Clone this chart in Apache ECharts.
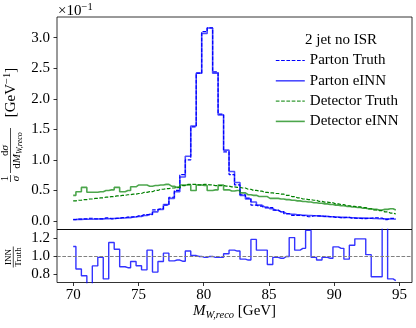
<!DOCTYPE html>
<html>
<head>
<meta charset="utf-8">
<script src="https://cdn.jsdelivr.net/npm/echarts@6/dist/echarts.min.js"></script>
<style>
  html, body { margin: 0; padding: 0; background: #fff; }
  #chart { width: 416px; height: 328px; }
</style>
</head>
<body>
<div id="chart"></div>
<script>
// histogram bins (centres), M_W,reco in GeV
const binStart = 70;
const binWidth = 0.419;
const xTicks = [70, 75, 80, 85, 90, 95];
const yTicksTop = [0, 0.5, 1.0, 1.5, 2.0, 2.5, 3.0];
const yTicksRatio = [0.8, 1.0, 1.2];

// values in units of 1e-1 GeV^-1
const partonTruth = [
  0.0225, 0.031, 0.036, 0.045, 0.036, 0.035, 0.051, 0.036, 0.043, 0.056,
  0.063, 0.069, 0.084, 0.106, 0.103, 0.182, 0.201, 0.260, 0.389, 0.500,
  0.760, 1.000, 1.540, 2.420, 3.100, 3.160, 2.440, 1.750, 1.130, 0.760,
  0.590, 0.430, 0.375, 0.260, 0.243, 0.215, 0.220, 0.177, 0.153, 0.120,
  0.091, 0.093, 0.087, 0.070, 0.086, 0.083, 0.076, 0.071, 0.059, 0.055,
  0.059, 0.048, 0.042, 0.039, 0.043, 0.053, 0.049, 0.024, 0.043, 0.041
];
const partonINN = [
  0.025, 0.027, 0.028, 0.030, 0.032, 0.035, 0.038, 0.042, 0.046, 0.050,
  0.055, 0.065, 0.075, 0.090, 0.110, 0.150, 0.190, 0.270, 0.370, 0.480,
  0.720, 1.060, 1.555, 2.420, 3.070, 3.160, 2.420, 1.735, 1.160, 0.810,
  0.630, 0.420, 0.360, 0.310, 0.260, 0.230, 0.200, 0.175, 0.150, 0.120,
  0.110, 0.100, 0.095, 0.090, 0.085, 0.080, 0.075, 0.070, 0.065, 0.060,
  0.057, 0.054, 0.050, 0.047, 0.044, 0.041, 0.038, 0.035, 0.032, 0.030
];
const detectorTruth = [
  0.33, 0.34, 0.35, 0.36, 0.37, 0.38, 0.39, 0.40, 0.41, 0.42,
  0.43, 0.44, 0.45, 0.47, 0.48, 0.50, 0.52, 0.53, 0.54, 0.55,
  0.58, 0.60, 0.60, 0.59, 0.60, 0.59, 0.58, 0.58, 0.57, 0.56,
  0.55, 0.54, 0.52, 0.50, 0.49, 0.47, 0.46, 0.45, 0.44, 0.42,
  0.40, 0.38, 0.36, 0.35, 0.34, 0.32, 0.31, 0.30, 0.28, 0.27,
  0.25, 0.24, 0.23, 0.22, 0.20, 0.18, 0.17, 0.15, 0.13, 0.115
];
const detectorINN = [
  0.42, 0.48, 0.55, 0.47, 0.47, 0.48, 0.50, 0.51, 0.55, 0.48,
  0.50, 0.56, 0.59, 0.59, 0.57, 0.58, 0.59, 0.60, 0.57, 0.55,
  0.59, 0.59, 0.50, 0.59, 0.58, 0.50, 0.51, 0.59, 0.51, 0.49,
  0.50, 0.46, 0.43, 0.42, 0.40, 0.40, 0.37, 0.37, 0.36, 0.35,
  0.34, 0.33, 0.32, 0.31, 0.30, 0.29, 0.28, 0.27, 0.26, 0.25,
  0.24, 0.23, 0.22, 0.21, 0.20, 0.19, 0.18, 0.19, 0.20, 0.18
];
// INN / Truth (parton level)
const ratio = [
  1.11, 0.86, 0.785, 0.62, 0.895, 0.99, 0.75, 1.155, 1.08, 0.885,
  0.875, 0.944, 0.896, 0.851, 1.07, 0.826, 0.944, 1.037, 0.951, 0.96,
  0.947, 1.06, 1.01, 1.0, 0.99, 1.0, 0.99, 0.99, 1.03, 1.07,
  1.06, 0.97, 0.96, 1.19, 1.07, 1.07, 0.91, 0.99, 0.98, 1.0,
  1.21, 1.07, 1.09, 1.29, 0.99, 0.96, 0.99, 0.98, 1.107, 1.09,
  0.97, 1.125, 1.196, 1.196, 1.02, 0.774, 0.774, 1.45, 0.75, 0.73
];

const FONT = 'Liberation Serif';
const xCentres = partonINN.map((_, i) => +(binStart + i * binWidth).toFixed(3));
const pairs = arr => arr.map((v, i) => [xCentres[i], v]);
const dash = [3.7, 1.6];

let chart = echarts.init(document.getElementById('chart'));

let lineStyleFor = function (color, dashed) {
  return dashed
    ? { color: color, width: 1.2, type: dash }
    : { color: color, width: 1.6, opacity: 0.7 };
};

let stepLine = function (name, data, color, dashed, grid) {
  return {
    name: name,
    type: 'line',
    step: 'middle',
    xAxisIndex: grid,
    yAxisIndex: grid,
    symbol: 'none',
    data: pairs(data),
    itemStyle: { color: color },
    lineStyle: lineStyleFor(color, dashed)
  };
};

let ratioSeries = stepLine('ratio', ratio, '#0000ff', false, 1);
ratioSeries.lineStyle.width = 1.4;
ratioSeries.lineStyle.opacity = 0.8;
ratioSeries.markLine = {
  silent: true,
  symbol: 'none',
  label: { show: false },
  lineStyle: { color: '#808080', width: 1, type: dash },
  data: [{ yAxis: 1 }]
};

let legendItem = function (name, color, dashed) {
  let ls = lineStyleFor(color, dashed);
  ls.width = dashed ? 1 : 1.6;
  return { name: name, itemStyle: { opacity: 0 }, lineStyle: ls };
};

let option = {
  animation: false,
  backgroundColor: '#fff',
  textStyle: { fontFamily: FONT },
  title: {
    text: '2 jet no ISR',
    left: 300,
    top: 28,
    textStyle: { fontFamily: FONT, fontSize: 15, fontWeight: 'normal', color: '#000' }
  },
  legend: {
    data: [
      legendItem('Parton Truth', '#0000ff', true),
      legendItem('Parton eINN', '#0000ff', false),
      legendItem('Detector Truth', '#008000', true),
      legendItem('Detector eINN', '#008000', false)
    ],
    orient: 'vertical',
    left: 270,
    top: 48,
    itemWidth: 29,
    itemHeight: 14,
    itemGap: 5.3,
    itemStyle: { opacity: 0 },
    textStyle: { fontFamily: FONT, fontSize: 15, color: '#000', lineHeight: 14 }
  },
  grid: [
    { left: 57, top: 17, width: 355, height: 212.5, show: true, borderColor: '#000', borderWidth: 0.8 },
    { left: 57, top: 229.5, width: 355, height: 53, show: true, borderColor: '#000', borderWidth: 0.8 }
  ],
  xAxis: [
    {
      type: 'value', gridIndex: 0, min: 68.76, max: 95.96,
      axisLine: { show: false }, axisTick: { show: false },
      axisLabel: { show: false }, splitLine: { show: false }
    },
    {
      type: 'value', gridIndex: 1, min: 68.76, max: 95.96,
      axisLine: { show: false },
      axisTick: { show: true, customValues: xTicks, length: 3.5, lineStyle: { color: '#000', width: 0.8 } },
      axisLabel: { customValues: xTicks, fontFamily: FONT, fontSize: 15, color: '#000', margin: 5 },
      splitLine: { show: false },
      name: '{i|M}{s|W,reco}{n| [GeV]}',
      nameLocation: 'middle',
      nameGap: 20,
      nameTextStyle: {
        rich: {
          i: { fontFamily: FONT, fontSize: 15, fontStyle: 'italic', color: '#000' },
          s: { fontFamily: FONT, fontSize: 10.5, fontStyle: 'italic', color: '#000', padding: [7, 0, 0, 0] },
          n: { fontFamily: FONT, fontSize: 15, color: '#000' }
        }
      }
    }
  ],
  yAxis: [
    {
      type: 'value', gridIndex: 0, min: -0.139, max: 3.339,
      axisLine: { show: false },
      axisTick: { show: true, customValues: yTicksTop, length: 3.5, lineStyle: { color: '#000', width: 0.8 } },
      axisLabel: {
        customValues: yTicksTop, fontFamily: FONT, fontSize: 15, color: '#000', margin: 7,
        formatter: v => v.toFixed(1)
      },
      splitLine: { show: false }
    },
    {
      type: 'value', gridIndex: 1, min: 0.71, max: 1.30,
      axisLine: { show: false },
      axisTick: { show: true, customValues: yTicksRatio, length: 3.5, lineStyle: { color: '#000', width: 0.8 } },
      axisLabel: {
        customValues: yTicksRatio, fontFamily: FONT, fontSize: 15, color: '#000', margin: 7,
        formatter: v => v.toFixed(1)
      },
      splitLine: { show: false }
    }
  ],
  graphic: [
    {
      type: 'text', left: 58, top: 2,
      style: {
        text: '{b|×10}{s|−1}',
        rich: {
          b: { fontFamily: FONT, fontSize: 15, fill: '#000' },
          s: { fontFamily: FONT, fontSize: 10.5, fill: '#000', padding: [0, 0, 8, 0] }
        }
      }
    },
    // top y label: 1/sigma dsigma/dM [GeV^-1]
    {
      type: 'group', x: 10.5, y: 123.5, rotation: Math.PI / 2,
      children: [
        { type: 'text', x: -55, y: -5, style: { text: '1', fontFamily: FONT, fontSize: 11, fill: '#000', align: 'center', verticalAlign: 'middle' } },
        { type: 'line', shape: { x1: -58.5, y1: 0, x2: -51.5, y2: 0 }, style: { stroke: '#000', lineWidth: 0.7 } },
        { type: 'text', x: -55, y: 5.5, style: { text: 'σ', fontFamily: FONT, fontSize: 11, fontStyle: 'italic', fill: '#000', align: 'center', verticalAlign: 'middle' } },
        { type: 'text', x: -27, y: -5, style: { text: 'd{i|σ}', fontFamily: FONT, fontSize: 11, fill: '#000', align: 'center', verticalAlign: 'middle', rich: { i: { fontFamily: FONT, fontSize: 11, fontStyle: 'italic' } } } },
        { type: 'line', shape: { x1: -49.5, y1: 0, x2: -4.5, y2: 0 }, style: { stroke: '#000', lineWidth: 0.7 } },
        {
          type: 'text', x: -27, y: 6.5,
          style: {
            text: 'd{i|M}{s|W,reco}', fontFamily: FONT, fontSize: 11, fill: '#000', align: 'center', verticalAlign: 'middle',
            rich: {
              i: { fontFamily: FONT, fontSize: 11, fontStyle: 'italic' },
              s: { fontFamily: FONT, fontSize: 8, fontStyle: 'italic', padding: [5, 0, 0, 0] }
            }
          }
        },
        {
          type: 'text', x: 31, y: 1,
          style: {
            text: '[GeV{s|−1}]', fontFamily: FONT, fontSize: 15, fill: '#000', align: 'center', verticalAlign: 'middle',
            rich: { s: { fontFamily: FONT, fontSize: 10.5, padding: [0, 0, 8, 0] } }
          }
        }
      ]
    },
    // ratio y label: INN / Truth
    {
      type: 'group', x: 13.3, y: 257, rotation: Math.PI / 2,
      children: [
        { type: 'text', x: 0, y: -4.5, style: { text: 'INN', fontFamily: FONT, fontSize: 9, fill: '#000', align: 'center', verticalAlign: 'middle' } },
        { type: 'line', shape: { x1: -10.5, y1: 0, x2: 10.5, y2: 0 }, style: { stroke: '#000', lineWidth: 0.7 } },
        { type: 'text', x: 0, y: 5, style: { text: 'Truth', fontFamily: FONT, fontSize: 9, fill: '#000', align: 'center', verticalAlign: 'middle' } }
      ]
    }
  ],
  series: [
    stepLine('Parton Truth', partonTruth, '#0000ff', true, 0),
    stepLine('Parton eINN', partonINN, '#0000ff', false, 0),
    stepLine('Detector Truth', detectorTruth, '#008000', true, 0),
    stepLine('Detector eINN', detectorINN, '#008000', false, 0),
    ratioSeries
  ]
};

chart.setOption(option);
window.onresize = function () {
  chart.resize();
};
</script>
</body>
</html>
